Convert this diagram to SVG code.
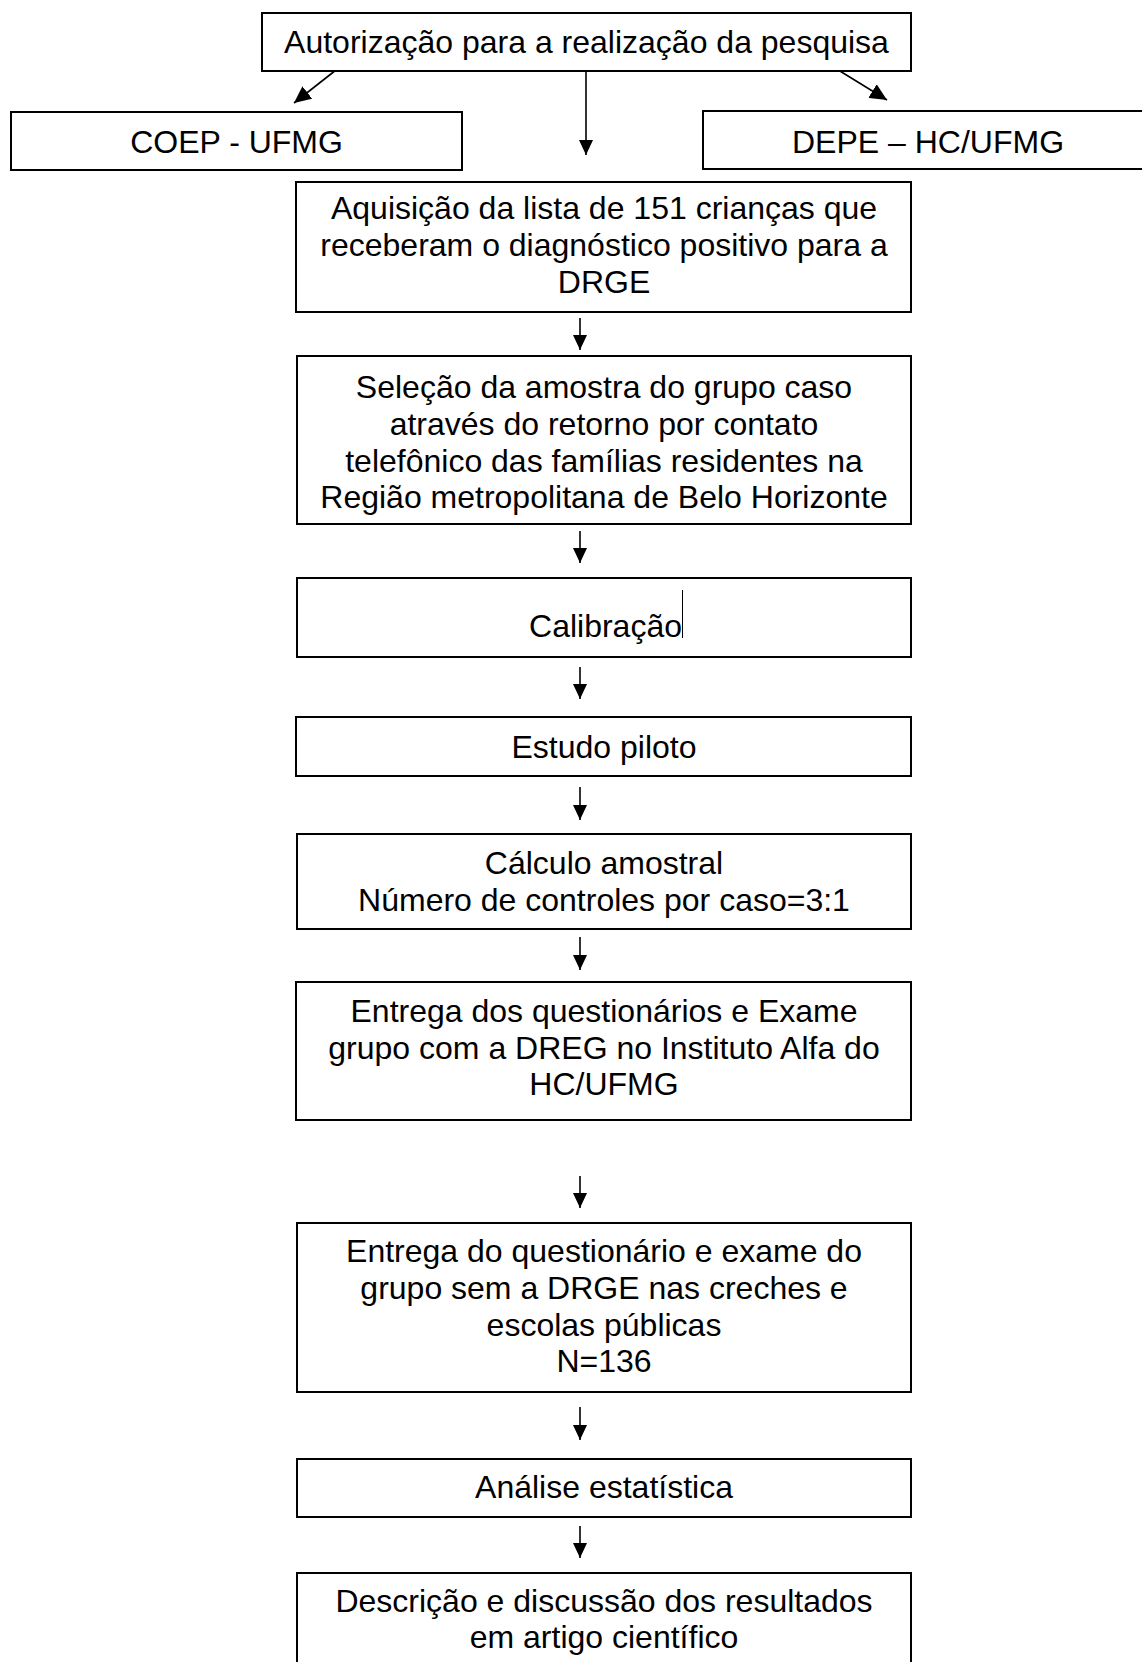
<svg xmlns="http://www.w3.org/2000/svg" width="1142" height="1662" viewBox="0 0 1142 1662">
<style>
.box{fill:#fff;stroke:#000;stroke-width:2}
.t{font-family:"Liberation Sans",Arial,sans-serif;font-size:32px;fill:#000;text-anchor:middle}
.c{stroke:#000;stroke-width:1.6;fill:none}
</style>
<defs>
<marker id="ah" markerUnits="userSpaceOnUse" markerWidth="16" markerHeight="14" refX="15" refY="7" orient="auto">
<path d="M0,0 L15,7 L0,14 z" fill="#000"/>
</marker>
<marker id="ahd" markerUnits="userSpaceOnUse" markerWidth="18" markerHeight="16" refX="17" refY="8" orient="auto">
<path d="M0,0 L17,8 L0,16 z" fill="#000"/>
</marker>
</defs>
<rect width="1142" height="1662" fill="#fff"/>
<g id="connectors">
<line class="c" x1="336" y1="70" x2="294" y2="103" marker-end="url(#ahd)"/>
<line class="c" x1="586" y1="71" x2="586" y2="155" marker-end="url(#ah)"/>
<line class="c" x1="835" y1="68" x2="887" y2="100" marker-end="url(#ahd)"/>
<line class="c" x1="580" y1="318" x2="580" y2="350" marker-end="url(#ah)"/>
<line class="c" x1="580" y1="531" x2="580" y2="563" marker-end="url(#ah)"/>
<line class="c" x1="580" y1="667" x2="580" y2="699" marker-end="url(#ah)"/>
<line class="c" x1="580" y1="787" x2="580" y2="820" marker-end="url(#ah)"/>
<line class="c" x1="580" y1="937" x2="580" y2="970" marker-end="url(#ah)"/>
<line class="c" x1="580" y1="1176" x2="580" y2="1208" marker-end="url(#ah)"/>
<line class="c" x1="580" y1="1407" x2="580" y2="1440" marker-end="url(#ah)"/>
<line class="c" x1="580" y1="1526" x2="580" y2="1558" marker-end="url(#ah)"/>
</g>
<g id="n-autorizacao">
<rect class="box" x="262" y="13" width="649" height="58"/>
<text class="t" x="586.5" y="53">Autorização para a realização da pesquisa</text>
</g>
<g id="n-coep">
<rect class="box" x="11" y="112" width="451" height="58"/>
<text class="t" x="236.5" y="152.5">COEP - UFMG</text>
</g>
<g id="n-depe">
<rect class="box" x="703" y="111" width="450" height="58"/>
<text class="t" x="928" y="152.5">DEPE – HC/UFMG</text>
</g>
<g id="n-aquisicao">
<rect class="box" x="296" y="182" width="615" height="130"/>
<text class="t" x="604" y="219">Aquisição da lista de 151 crianças que</text>
<text class="t" x="604" y="256">receberam o diagnóstico positivo para a</text>
<text class="t" x="604" y="293">DRGE</text>
</g>
<g id="n-selecao">
<rect class="box" x="297" y="356" width="614" height="168"/>
<text class="t" x="604" y="398">Seleção da amostra do grupo caso</text>
<text class="t" x="604" y="435">através do retorno por contato</text>
<text class="t" x="604" y="472">telefônico das famílias residentes na</text>
<text class="t" x="604" y="508">Região metropolitana de Belo Horizonte</text>
</g>
<g id="n-calibracao">
<rect class="box" x="297" y="578" width="614" height="79"/>
<text class="t" x="605.5" y="637">Calibração</text>
<line x1="682.5" y1="590" x2="682.5" y2="638" stroke="#000" stroke-width="1"/>
</g>
<g id="n-estudo">
<rect class="box" x="296" y="717" width="615" height="59"/>
<text class="t" x="604" y="757.5">Estudo piloto</text>
</g>
<g id="n-calculo">
<rect class="box" x="297" y="834" width="614" height="95"/>
<text class="t" x="604" y="874">Cálculo amostral</text>
<text class="t" x="604" y="911">Número de controles por caso=3:1</text>
</g>
<g id="n-entrega-dreg">
<rect class="box" x="296" y="982" width="615" height="138"/>
<text class="t" x="604" y="1022">Entrega dos questionários e Exame</text>
<text class="t" x="604" y="1059">grupo com a DREG no Instituto Alfa do</text>
<text class="t" x="604" y="1095">HC/UFMG</text>
</g>
<g id="n-entrega-sem">
<rect class="box" x="297" y="1223" width="614" height="169"/>
<text class="t" x="604" y="1262">Entrega do questionário e exame do</text>
<text class="t" x="604" y="1299">grupo sem a DRGE nas creches e</text>
<text class="t" x="604" y="1336">escolas públicas</text>
<text class="t" x="604" y="1372">N=136</text>
</g>
<g id="n-analise">
<rect class="box" x="297" y="1459" width="614" height="58"/>
<text class="t" x="604" y="1498">Análise estatística</text>
</g>
<g id="n-descricao">
<rect class="box" x="297" y="1573" width="614" height="100"/>
<text class="t" x="604" y="1612">Descrição e discussão dos resultados</text>
<text class="t" x="604" y="1648">em artigo científico</text>
</g>
</svg>
